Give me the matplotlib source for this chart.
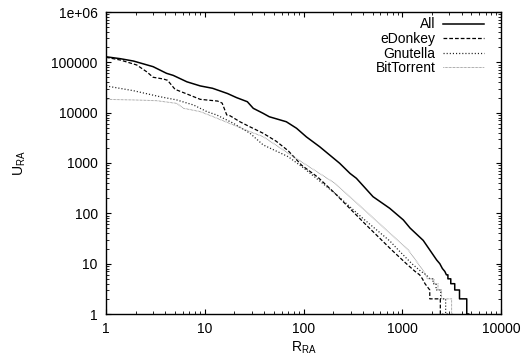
import matplotlib
matplotlib.use("Agg")
import matplotlib.pyplot as plt
from matplotlib.ticker import FixedLocator, FixedFormatter, LogLocator, NullFormatter

plt.rcParams['font.family'] = ['Liberation Sans', 'DejaVu Sans']
plt.rcParams['font.size'] = 10
plt.rcParams['mathtext.default'] = 'regular'

# ---- data ----
R_all = [1, 1.4, 1.9, 3.0, 4.1, 4.8, 6.6, 9, 12, 17, 21, 27, 31, 39, 45, 67, 85,
         107, 146, 232, 296, 343, 506, 746, 1025, 1200, 1630, 2233, 2400, 2550,
         2700, 2800, 2900, 2900, 3100, 3100, 3400, 3400, 3800, 3800, 4500, 4500, 4700]
U_all = [129000, 118000, 106000, 82000, 60500, 55000, 41000, 34000, 30500, 24000,
         19900, 16500, 12200, 9700, 8300, 6600, 4900, 3300, 2100, 990, 620, 497,
         214, 126, 74, 51, 29, 11.8, 10, 8, 7, 6, 6, 5, 5, 4, 4, 3, 3, 2, 2, 1, 1]

R_edk = [1, 1.4, 2.05, 2.58, 3.0, 3.8, 4.2, 5.0, 6.6, 9.0, 13.5, 15, 16.7, 18,
         22.7, 27.6, 39, 53, 70, 96, 140, 208, 400, 782, 1100, 1350, 1500, 1600,
         1700, 1900, 1900, 2430, 2430, 2600]
U_edk = [126000, 111000, 88500, 65000, 50500, 46700, 44000, 29100, 23500, 18400,
         17000, 15500, 9000, 8700, 6600, 5430, 3900, 2700, 1750, 900, 520, 250,
         68, 18.7, 10, 7, 6, 5, 4, 3, 2, 2, 1, 1]

R_gnu = [1, 1.9, 3.5, 5.2, 7.7, 10.5, 13.2, 19.5, 28.7, 39, 70, 100, 208, 400,
         752, 912, 1250, 1550, 1750, 1900, 2050, 2050, 2200, 2200, 2450, 2450,
         2750, 2750, 2900]
U_gnu = [34000, 27300, 20800, 17900, 14200, 10500, 9000, 6150, 3900, 2290, 1335,
         800, 250, 79, 28, 18.7, 10, 7, 6, 5, 5, 4, 4, 3, 3, 2, 2, 1, 1]

R_bit = [1, 1.9, 3.26, 5.2, 6.1, 9, 12.2, 19.5, 28.7, 39, 70, 208, 400, 752, 1152,
         1450, 1650, 1800, 2100, 2100, 2300, 2300, 2500, 2500, 3160, 3160, 3300]
U_bit = [18400, 17900, 17300, 15300, 12200, 10500, 8300, 5700, 4190, 3340, 1560,
         395, 124, 40, 18.7, 10, 7, 5, 5, 4, 4, 3, 3, 2, 2, 1, 1]

series_labels = ['All', 'eDonkey', 'Gnutella', 'BitTorrent']
x_ticks = [1, 10, 100, 1000, 10000]
x_ticklabels = ['1', '10', '100', '1000', '10000']
y_ticks = [1, 10, 100, 1000, 10000, 100000, 1000000]
y_ticklabels = ['1', '10', '100', '1000', '10000', '100000', '1e+06']

W, H = 526, 358
fig = plt.figure(figsize=(W / 100, H / 100), dpi=100)
ax = fig.add_axes([106 / W, (H - 314) / H, 395 / W, 302 / H])

ax.plot(R_all, U_all, color='black', lw=1.1, label=series_labels[0])
ax.plot(R_edk, U_edk, color='black', lw=0.9, dashes=(3.0, 1.6), label=series_labels[1])
ax.plot(R_gnu, U_gnu, color='#222222', lw=0.9, dashes=(0.9, 1.6), label=series_labels[2])
ax.plot(R_bit, U_bit, color='#777777', lw=0.7, dashes=(0.6, 0.8), label=series_labels[3])

ax.set_xscale('log')
ax.set_yscale('log')
ax.set_xlim(1, 10000)
ax.set_ylim(1, 1e6)

ax.xaxis.set_major_locator(FixedLocator(x_ticks))
ax.xaxis.set_major_formatter(FixedFormatter(x_ticklabels))
ax.yaxis.set_major_locator(FixedLocator(y_ticks))
ax.yaxis.set_major_formatter(FixedFormatter(y_ticklabels))
ax.xaxis.set_minor_locator(LogLocator(base=10, subs=range(2, 10), numticks=20))
ax.yaxis.set_minor_locator(LogLocator(base=10, subs=range(2, 10), numticks=20))
ax.xaxis.set_minor_formatter(NullFormatter())
ax.yaxis.set_minor_formatter(NullFormatter())

ax.tick_params(which='both', direction='in', top=True, right=True, colors='black')
ax.tick_params(which='major', length=3.5, width=0.8, pad=6)
ax.tick_params(which='minor', length=2, width=0.6)
for s in ax.spines.values():
    s.set_linewidth(1.0)

ax.set_xlabel('R$_{RA}$', labelpad=2)
ax.set_ylabel('U$_{RA}$', labelpad=17)

leg = ax.legend(loc='upper right', bbox_to_anchor=(0.956, 0.982), frameon=False,
                markerfirst=False, handlelength=2.9, handletextpad=0.55,
                borderpad=0, borderaxespad=0, labelspacing=0.04)

fig.savefig('out.png', dpi=100)
